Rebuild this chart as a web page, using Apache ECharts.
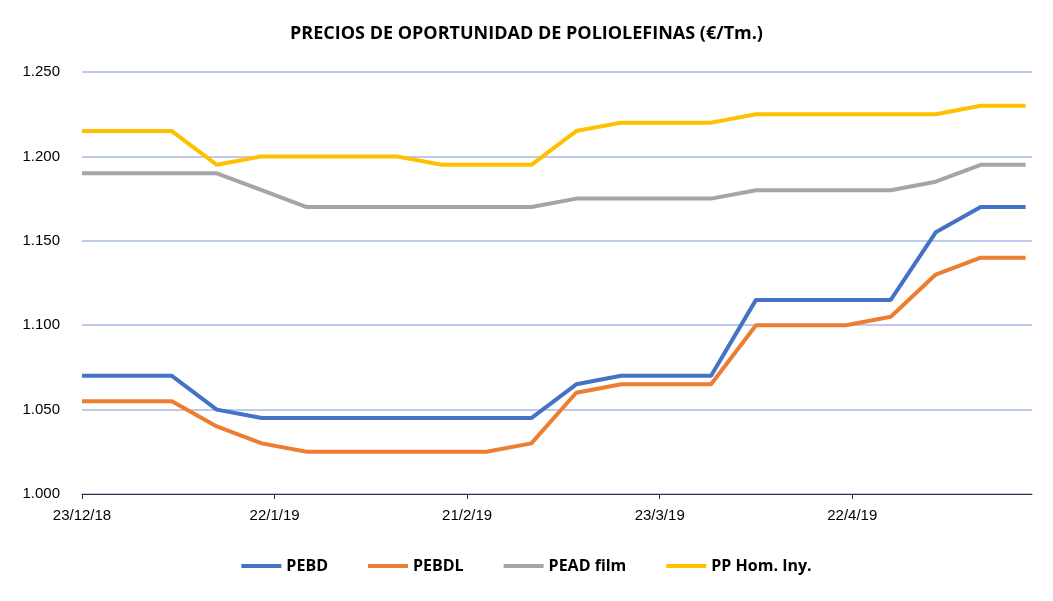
<!DOCTYPE html>
<html>
<head>
<meta charset="utf-8">
<script src="https://cdn.jsdelivr.net/npm/echarts@6/dist/echarts.min.js"></script>
<style>html,body{margin:0;padding:0;background:#fff}#chart{width:1053px;height:601px}</style>
</head>
<body>
<div id="chart"></div>
<script>
var data = {
    start: [2018, 11, 23],
    series: [{
        name: 'PEBD', color: '#4472c4',
        val: [1070, 1070, 1070, 1050, 1045, 1045, 1045, 1045, 1045, 1045, 1045, 1065, 1070, 1070, 1070, 1115, 1115, 1115, 1115, 1155, 1170, 1170]
    }, {
        name: 'PEBDL', color: '#ed7d31',
        val: [1055, 1055, 1055, 1040, 1030, 1025, 1025, 1025, 1025, 1025, 1030, 1060, 1065, 1065, 1065, 1100, 1100, 1100, 1105, 1130, 1140, 1140]
    }, {
        name: 'PEAD film', color: '#a5a5a5',
        val: [1190, 1190, 1190, 1190, 1180, 1170, 1170, 1170, 1170, 1170, 1170, 1175, 1175, 1175, 1175, 1180, 1180, 1180, 1180, 1185, 1195, 1195]
    }, {
        name: 'PP Hom. Iny.', color: '#ffc000',
        val: [1215, 1215, 1215, 1195, 1200, 1200, 1200, 1200, 1195, 1195, 1195, 1215, 1220, 1220, 1220, 1225, 1225, 1225, 1225, 1225, 1230, 1230]
    }]
};

var DAY = 86400000;
var t0 = Date.UTC(data.start[0], data.start[1], data.start[2]);

function toPoints(vals) {
    var arr = [];
    for (var i = 0; i < vals.length; i++) {
        arr.push([t0 + i * 7 * DAY, vals[i]]);
    }
    return arr;
}

var myChart = echarts.init(document.getElementById('chart'));
var option = {
    title: {
        text: 'PRECIOS DE OPORTUNIDAD DE POLIOLEFINAS (€/Tm.)',
        left: 'center', top: 20,
        textStyle: { fontSize: 18, fontWeight: 'bold', color: '#000', fontFamily: 'Open Sans' }
    },
    legend: {
        bottom: 22, itemGap: 40, itemWidth: 40, itemHeight: 4, icon: 'rect',
        textStyle: { fontSize: 16, fontWeight: 'bold', color: '#000', fontFamily: 'Open Sans' },
        data: data.series.map(function (s) { return s.name; })
    },
    grid: { left: 82, right: 21, top: 72, bottom: 107 },
    xAxis: {
        type: 'value',
        min: t0, max: t0 + 148 * DAY, interval: 30 * DAY,
        splitLine: { show: false },
        axisLine: { lineStyle: { color: '#333', width: 1 } },
        axisTick: { show: true, length: 5, lineStyle: { color: '#333' } },
        axisLabel: {
            fontSize: 15, color: '#000', margin: 14, showMaxLabel: false,
            formatter: function (v) {
                var d = new Date(v);
                return d.getUTCDate() + '/' + (d.getUTCMonth() + 1) + '/' + String(d.getUTCFullYear()).slice(2);
            }
        }
    },
    yAxis: {
        type: 'value', min: 1000, max: 1250, interval: 50,
        axisLine: { show: false }, axisTick: { show: false },
        splitLine: { lineStyle: { color: '#a9b8e6', width: 1.5 } },
        axisLabel: {
            fontSize: 15, color: '#000', margin: 22,
            formatter: function (v) { return '1.' + String(v - 1000).padStart(3, '0'); }
        }
    },
    series: data.series.map(function (s) {
        return {
            name: s.name, type: 'line', symbol: 'none', color: s.color,
            lineStyle: { width: 4, color: s.color },
            data: toPoints(s.val)
        };
    })
};
myChart.setOption(option);
</script>
</body>
</html>
